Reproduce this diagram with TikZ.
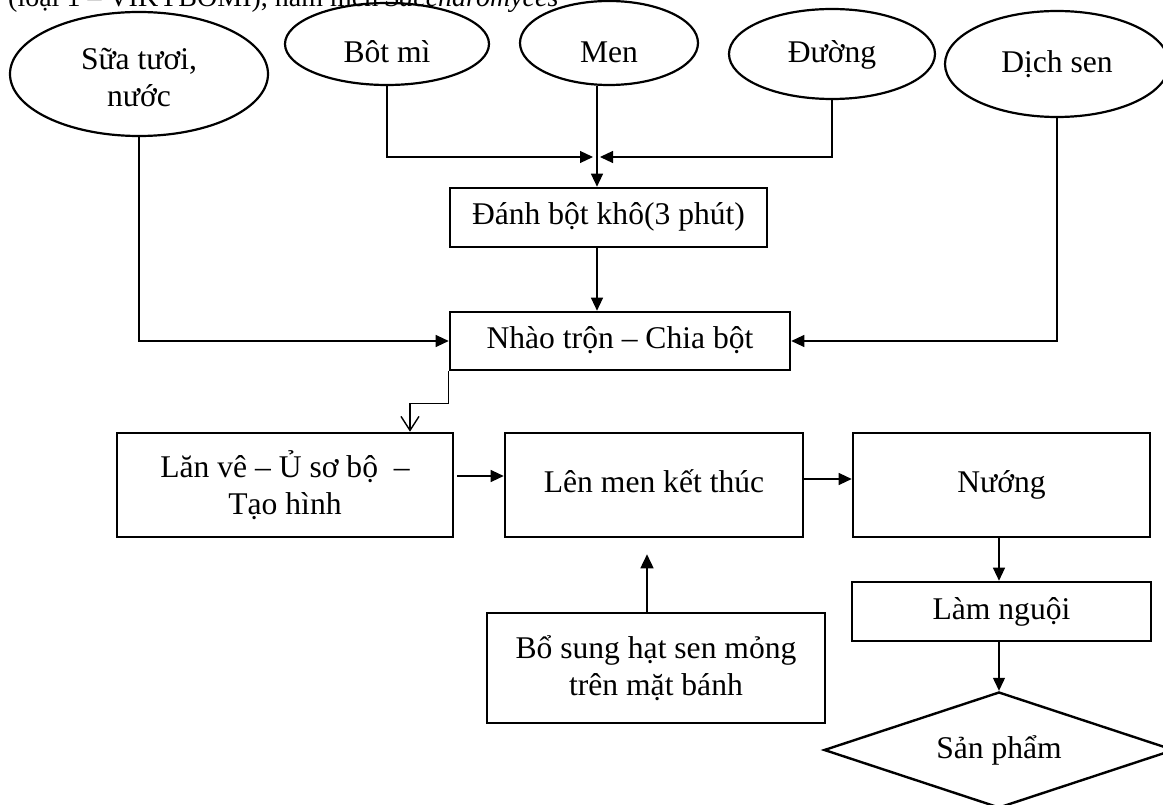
\documentclass[tikz,border=0pt]{standalone}
\usepackage{fontspec}
\setmainfont{Liberation Serif}
\usetikzlibrary{arrows.meta,shapes.geometric}
\begin{document}
\begin{tikzpicture}[x=1pt,y=-1pt,
  txt/.style={font=\fontsize{31.6pt}{36.5pt}\selectfont},
  oval/.style={draw,ellipse,line width=2.2pt,inner sep=0pt,txt},
  box/.style={draw,rectangle,line width=2.6pt,inner sep=0pt,txt,align=center},
  onebox/.style={box,text height=22pt,text depth=7pt},
  conn/.style={line width=1.2pt,-{Triangle[length=13pt,width=12pt]}},
  thick conn/.style={line width=1.6pt,-{Triangle[length=14pt,width=13pt]}},
  barb/.style={line width=1.2pt,-{Straight Barb[length=14pt,width=18pt,line width=1.4pt]}}]
\useasboundingbox (0,0) rectangle (1163,805);
\clip (0,0) rectangle (1163,805);
\fill[white] (0,0) rectangle (1163,805);

\node[anchor=base west,inner sep=0pt,font=\fontsize{28pt}{30pt}\selectfont] (toptext) at (8,7)
  {(loại 1 – VIKYBOMI), nấm men \textit{Saccharomyces}};

% ellipses
\node[oval,minimum width=258pt,minimum height=124pt] (sua) at (139,74)
  {\raisebox{4pt}[0pt][0pt]{\begin{tabular}[t]{@{}c@{}}Sữa tươi,\\ nước\end{tabular}}};
\node[oval,minimum width=204pt,minimum height=82pt] (botmi) at (387,44)
  {\raisebox{-19pt}[0pt][0pt]{Bôt mì}};
\node[oval,minimum width=178pt,minimum height=84pt] (men) at (609,43)
  {\raisebox{-20pt}[0pt][0pt]{Men}};
\node[oval,minimum width=206pt,minimum height=90pt] (duong) at (832,54)
  {\raisebox{-9pt}[0pt][0pt]{Đường}};
\node[oval,minimum width=224pt,minimum height=106pt] (dich) at (1057,64)
  {\raisebox{-9pt}[0pt][0pt]{Dịch sen}};

\coordinate (j) at (597,157);

% boxes
\node[onebox,minimum width=317pt,minimum height=59pt] (danh) at (608.5,217.5) {Đánh bột khô(3 phút)};
\node[onebox,minimum width=340pt,minimum height=58pt] (nhao) at (620,341) {Nhào trộn – Chia bột};
\node[box,minimum width=336pt,minimum height=104pt] (lan) at (285,485) {Lăn vê – Ủ sơ bộ~ –\\ Tạo hình};
\node[onebox,minimum width=298pt,minimum height=104pt] (len) at (654,485) {Lên men kết thúc};
\node[onebox,minimum width=297pt,minimum height=104pt] (nuong) at (1001.5,485) {Nướng};
\node[onebox,minimum width=299pt,minimum height=59pt] (lam) at (1001.5,611.5) {Làm nguội};
\node[box,minimum width=338pt,minimum height=110pt] (bo) at (656,668) {Bổ sung hạt sen mỏng\\ trên mặt bánh};
\node[draw,diamond,line width=2.4pt,inner sep=0pt,aspect=3,minimum width=350pt,minimum height=116pt,txt] (sp) at (999,750) {Sản phẩm};

% connectors
\draw[conn] (botmi.south) |- ([xshift=-4pt]j);
\draw[conn] (duong.south) |- ([xshift=3pt]j);
\draw[conn] (men.south -| j) -- (danh.north -| j);
\draw[conn] (danh.south -| j) -- (nhao.north -| j);
\draw[conn] (sua.south) |- (nhao.west);
\draw[conn] (dich.south) |- (nhao.east);
\draw[barb] (nhao.south west) -- ([yshift=-32pt]nhao.south west) -| ([xshift=125pt]lan.north);
\draw[conn] ([yshift=9pt,xshift=3pt]lan.east) -- ([yshift=9pt]len.west);
\draw[conn] ([yshift=6pt]len.east) -- ([yshift=6pt]nuong.west);
\draw[conn] (nuong.south -| sp.north) -- (lam.north -| sp.north);
\draw[conn] (lam.south -| sp.north) -- (sp.north);
\draw[thick conn] ([xshift=-9pt]bo.north) -- ([xshift=-7pt,yshift=-16pt]len.south);
\end{tikzpicture}
\end{document}
